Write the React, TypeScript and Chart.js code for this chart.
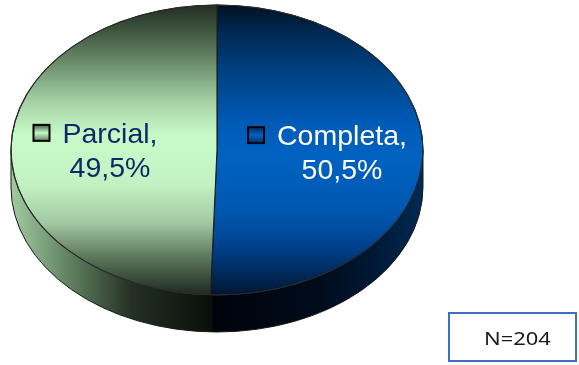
import React, { useEffect, useRef } from "react";
import { Chart, registerables } from "chart.js";

Chart.register(...registerables);

const categories = ["Completa", "Parcial"];
const percentages = [50.5, 49.5];
const sampleLabel = "N=204";

const faceStops = [
  [
    [0, "#00101f"],
    [0.1, "#002a56"],
    [0.22, "#003f7e"],
    [0.4, "#005ab5"],
    [0.52, "#0062c2"],
    [0.7, "#0058b0"],
    [0.8, "#00489a"],
    [0.9, "#003068"],
    [1, "#001530"],
  ],
  [
    [0, "#222e22"],
    [0.1, "#435a43"],
    [0.2, "#6a8c6a"],
    [0.33, "#a4d0a4"],
    [0.45, "#c8fac8"],
    [0.62, "#c2f2c2"],
    [0.75, "#a2c8a2"],
    [0.86, "#607c60"],
    [1, "#1e281e"],
  ],
];
const sideStops = [
  [
    [0, "#00030a"],
    [0.5, "#000b1a"],
    [0.8, "#001a38"],
    [1, "#002a55"],
  ],
  [
    [0, "#a2caa2"],
    [0.3, "#5e7e5e"],
    [0.6, "#243024"],
    [1, "#0a0f0a"],
  ],
];
const labelColors = ["#ffffff", "#0c2a66"];
const labelDx = [22, -4];

const ELL = { cx: 217, cy: 150, rx: 206, ry: 145, depth: 37 };

function mkVGrad(c: CanvasRenderingContext2D, y0: number, y1: number, stops: any[]) {
  const g = c.createLinearGradient(0, y0, 0, y1);
  stops.forEach((s) => g.addColorStop(s[0], s[1]));
  return g;
}

export default function App() {
  const ref = useRef<HTMLCanvasElement | null>(null);
  useEffect(() => {
    const canvas = ref.current!;
    const pie3d = {
      id: "pie3d",
      beforeDatasetsDraw(chart: any) {
        const c: CanvasRenderingContext2D = chart.ctx;
        const arcs = chart.getDatasetMeta(0).data;
        const { cx, cy, rx, ry, depth } = ELL;
        c.save();
        // side bands
        arcs.forEach((arc: any, i: number) => {
          const a = Math.max(arc.startAngle - 0.01, 0);
          const b = Math.min(arc.endAngle + 0.01, Math.PI);
          if (b <= a) return;
          const x0 = cx + rx * Math.cos(b);
          const x1 = cx + rx * Math.cos(a);
          const g = c.createLinearGradient(Math.min(x0, x1), 0, Math.max(x0, x1), 0);
          sideStops[i].forEach((s: any) => g.addColorStop(s[0], s[1]));
          c.beginPath();
          c.ellipse(cx, cy, rx, ry, 0, a, b, false);
          c.ellipse(cx, cy + depth, rx, ry, 0, b, a, true);
          c.closePath();
          c.fillStyle = g;
          c.fill();
        });
        c.beginPath();
        c.moveTo(cx + rx, cy);
        c.ellipse(cx, cy + depth, rx, ry, 0, 0, Math.PI, false);
        c.lineTo(cx - rx, cy);
        c.strokeStyle = "#1a1a1a";
        c.lineWidth = 1;
        c.stroke();
        // transform for top face
        const a0 = arcs[0];
        const R = a0.outerRadius;
        c.translate(cx, cy);
        c.scale(rx / R, ry / R);
        c.translate(-a0.x, -a0.y);
      },
      afterDatasetsDraw(chart: any) {
        const c: CanvasRenderingContext2D = chart.ctx;
        c.restore();
        const arcs = chart.getDatasetMeta(0).data;
        const { cx, cy, rx, ry } = ELL;
        c.save();
        c.beginPath();
        c.ellipse(cx, cy, rx, ry, 0, 0, Math.PI * 2);
        c.strokeStyle = "#2a2a2a";
        c.lineWidth = 1;
        c.stroke();
        const font = '28.5px "Liberation Sans", Arial, sans-serif';
        c.font = font;
        arcs.forEach((arc: any, i: number) => {
          const mid = (arc.startAngle + arc.endAngle) / 2;
          const px = cx + rx * 0.5 * Math.cos(mid) + labelDx[i];
          const py = cy + ry * 0.5 * Math.sin(mid);
          const l1 = categories[i] + ",";
          const l2 = percentages[i].toFixed(1).replace(".", ",") + "%";
          const w1 = c.measureText(l1).width;
          const base1 = py - 6;
          const base2 = base1 + 34;
          c.fillStyle = labelColors[i];
          c.textBaseline = "alphabetic";
          c.textAlign = "center";
          c.fillText(l1, px, base1);
          c.fillText(l2, px, base2);
          // legend key
          const kx = px - w1 / 2 - 12 - 17;
          const ky = base1 - 18;
          c.fillStyle = mkVGrad(c, ky, ky + 16, [
            [0, faceStops[i][1][1]],
            [0.5, faceStops[i][4][1]],
            [1, faceStops[i][7][1]],
          ]);
          c.fillRect(kx, ky, 16, 16);
          c.lineWidth = 2;
          c.strokeStyle = "#000000";
          c.strokeRect(kx, ky, 16, 16);
        });
        c.restore();
      },
    };
    const chart = new Chart(canvas, {
      type: "pie",
      data: {
        labels: categories,
        datasets: [
          {
            data: percentages,
            backgroundColor: (ctx: any) => {
              const ch = ctx.chart;
              const area = ch.chartArea;
              if (!area) return "#888";
              return mkVGrad(ch.ctx, area.top, area.bottom, faceStops[ctx.dataIndex]);
            },
            borderColor: "#1e1e1e",
            borderWidth: 0.8,
          },
        ],
      },
      options: {
        responsive: false,
        animation: false,
        layout: { padding: { left: 11, right: 156, top: 5, bottom: 70 } },
        plugins: { legend: { display: false }, tooltip: { enabled: false } },
      },
      plugins: [pie3d],
    });
    return () => chart.destroy();
  }, []);
  return (
    <div style={{ position: "fixed", left: 0, top: 0, width: 579, height: 365, background: "#fff" }}>
      <canvas ref={ref} width={579} height={365} style={{ position: "absolute", left: 0, top: 0 }} />
      <div
        style={{
          position: "absolute",
          left: 448,
          top: 312,
          width: 125,
          height: 46,
          border: "2px solid #3b70c2",
          display: "flex",
          alignItems: "center",
          justifyContent: "center",
          fontFamily: '"Noto Sans", "Open Sans", sans-serif',
          fontSize: 18,
          color: "#1a1a1a",
        }}
      >
        <span style={{ display: "inline-block", transform: "scaleX(1.22)", marginTop: 1, marginLeft: 10 }}>{sampleLabel}</span>
      </div>
    </div>
  );
}
